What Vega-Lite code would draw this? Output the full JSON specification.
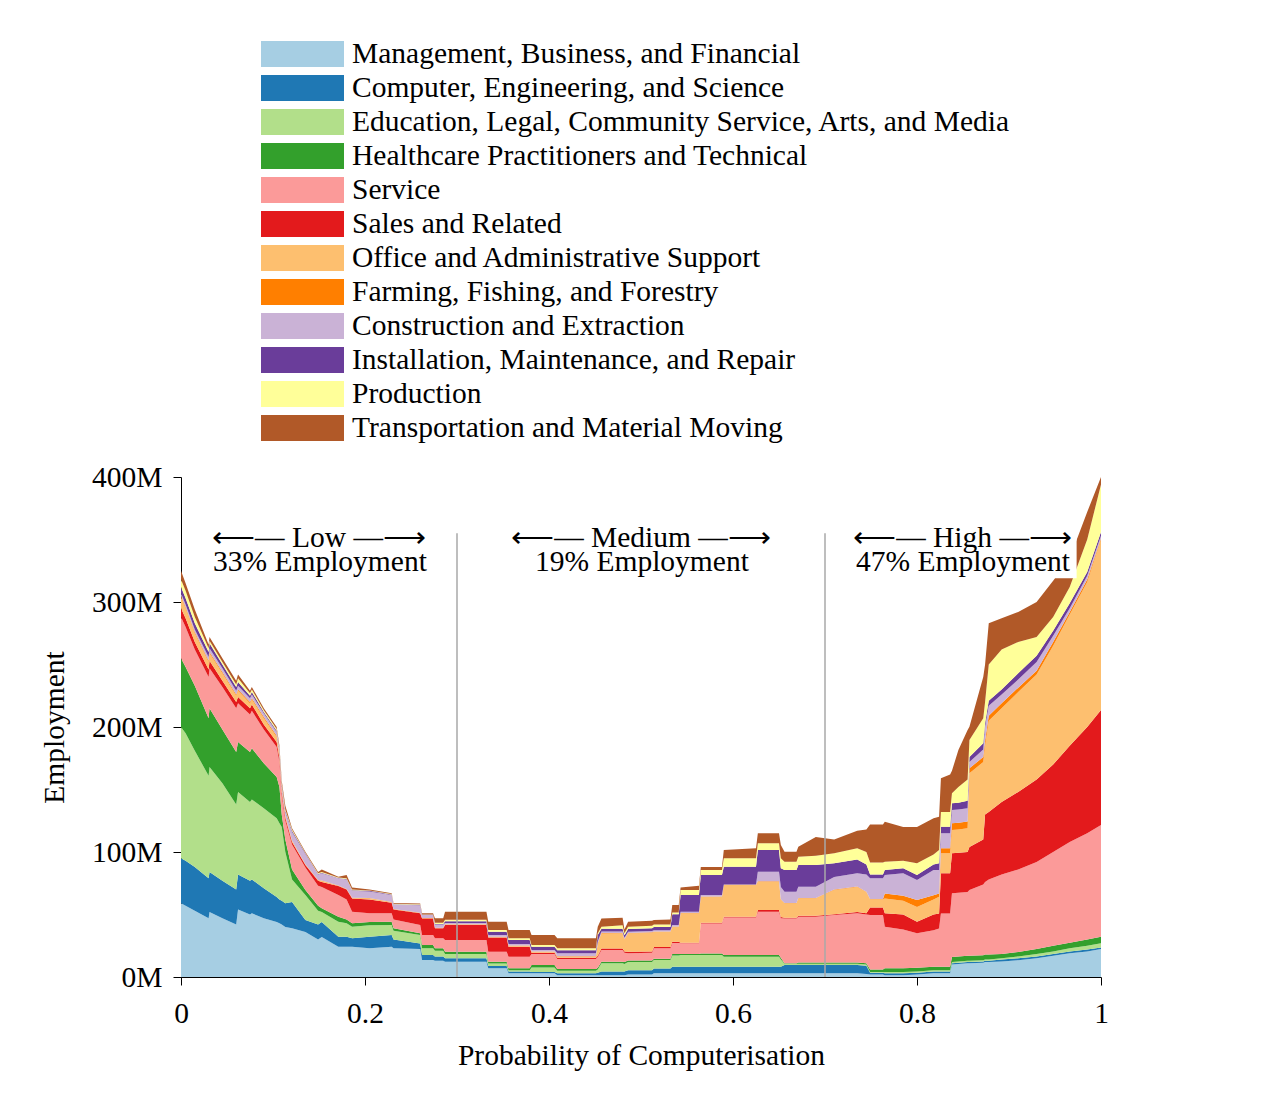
{
  "$schema": "https://vega.github.io/schema/vega-lite/v6.json",
  "width": 920,
  "height": 500,
  "autosize": {"type": "none"},
  "padding": {"left": 181, "top": 477, "right": 169, "bottom": 121},
  "background": "white",
  "config": {"view": {"stroke": null}, "font": "Liberation Serif"},
  "datasets": {
    "cats": [
      {"key": "a", "name": "Management, Business, and Financial"},
      {"key": "b", "name": "Computer, Engineering, and Science"},
      {"key": "c", "name": "Education, Legal, Community Service, Arts, and Media"},
      {"key": "d", "name": "Healthcare Practitioners and Technical"},
      {"key": "e", "name": "Service"},
      {"key": "f", "name": "Sales and Related"},
      {"key": "g", "name": "Office and Administrative Support"},
      {"key": "h", "name": "Farming, Fishing, and Forestry"},
      {"key": "i", "name": "Construction and Extraction"},
      {"key": "j", "name": "Installation, Maintenance, and Repair"},
      {"key": "k", "name": "Production"},
      {"key": "l", "name": "Transportation and Material Moving"}
    ],
    "emp": [
      {"p":0,"a":59,"b":36,"c":105,"d":55,"e":33,"f":7,"g":9,"h":1,"i":2,"j":5,"k":6,"l":7},
      {"p":0.005,"a":57,"b":36,"c":102,"d":53,"e":32,"f":7,"g":8,"h":1,"i":2,"j":5,"k":6,"l":6},
      {"p":0.015,"a":53,"b":35,"c":93,"d":52,"e":29,"f":6,"g":7,"h":1,"i":2,"j":5,"k":5,"l":6},
      {"p":0.03,"a":47,"b":32,"c":82,"d":46,"e":33,"f":6,"g":6,"h":1,"i":3,"j":4,"k":3,"l":3},
      {"p":0.031,"a":52,"b":32,"c":84,"d":47,"e":32,"f":6,"g":6,"h":1,"i":3,"j":4,"k":2,"l":3},
      {"p":0.045,"a":47,"b":30,"c":78,"d":43,"e":34,"f":5,"g":6,"h":1,"i":3,"j":3,"k":2,"l":3},
      {"p":0.06,"a":42,"b":28,"c":68,"d":42,"e":35,"f":5,"g":5,"h":1,"i":3,"j":3,"k":2,"l":3},
      {"p":0.062,"a":54,"b":28,"c":66,"d":40,"e":31,"f":5,"g":5,"h":1,"i":3,"j":3,"k":3,"l":3},
      {"p":0.075,"a":50,"b":27,"c":63,"d":40,"e":30,"f":5,"g":4,"h":1,"i":3,"j":2,"k":2,"l":2},
      {"p":0.077,"a":51,"b":27,"c":64,"d":41,"e":30,"f":5,"g":4,"h":1,"i":3,"j":2,"k":2,"l":2},
      {"p":0.09,"a":47,"b":24,"c":64,"d":36,"e":27,"f":4,"g":5,"h":1,"i":3,"j":1,"k":1.5,"l":1.5},
      {"p":0.104,"a":44,"b":20,"c":63,"d":33,"e":24,"f":4,"g":4,"h":1,"i":3,"j":1,"k":1.5,"l":1.5},
      {"p":0.107,"a":43,"b":19,"c":61,"d":29,"e":20,"f":3,"g":3,"h":0.5,"i":2.5,"j":1,"k":1,"l":2},
      {"p":0.1095,"a":42,"b":19,"c":59,"d":10,"e":15,"f":3,"g":2,"h":0.5,"i":2.5,"j":1,"k":1,"l":2},
      {"p":0.1134,"a":40,"b":19,"c":41,"d":10,"e":15,"f":2.5,"g":1.5,"h":0.3,"i":2.7,"j":1,"k":1,"l":3},
      {"p":0.1207,"a":39,"b":21,"c":18,"d":8,"e":20,"f":2,"g":1,"h":0.2,"i":6.8,"j":1,"k":1,"l":1},
      {"p":0.1352,"a":36,"b":9.6,"c":20,"d":4,"e":18.1,"f":1.9,"g":0.4,"h":0.2,"i":8.2,"j":0.6,"k":0.5,"l":0.8},
      {"p":0.149,"a":30,"b":12,"c":11,"d":4,"e":16,"f":4,"g":0.5,"h":0.2,"i":4.3,"j":0.5,"k":0.5,"l":1},
      {"p":0.153,"a":32,"b":12,"c":8,"d":3,"e":17,"f":4,"g":1,"h":0.2,"i":5.8,"j":0.5,"k":0.5,"l":2},
      {"p":0.171,"a":24.3,"b":8,"c":12,"d":4,"e":17.3,"f":7.2,"g":0.2,"h":0.2,"i":5.8,"j":0.3,"k":0.3,"l":0.7},
      {"p":0.18,"a":24.3,"b":8,"c":10.7,"d":3,"e":16,"f":8,"g":0.3,"h":0.2,"i":7.5,"j":0.5,"k":0.5,"l":2.6},
      {"p":0.186,"a":24.3,"b":6.7,"c":9.3,"d":2.7,"e":9.3,"f":10.6,"g":0.3,"h":0.2,"i":5.6,"j":0.5,"k":0.5,"l":1.7},
      {"p":0.205,"a":23,"b":9.3,"c":9.2,"d":2.5,"e":7,"f":11,"g":1,"h":0.2,"i":5.3,"j":0.5,"k":0.3,"l":0.7},
      {"p":0.229,"a":24.3,"b":9.3,"c":8,"d":2.7,"e":6.7,"f":8.5,"g":0.3,"h":0.2,"i":5.6,"j":0.4,"k":0.4,"l":0.6},
      {"p":0.231,"a":23,"b":7,"c":7,"d":2,"e":7,"f":8,"g":0.3,"h":0.2,"i":3.5,"j":0.3,"k":0.3,"l":0.7},
      {"p":0.26,"a":22.4,"b":4.5,"c":6.7,"d":1.4,"e":6.6,"f":9.4,"g":0.3,"h":0.2,"i":6,"j":0.3,"k":0.4,"l":0.7},
      {"p":0.262,"a":13.6,"b":4,"c":5.4,"d":2.6,"e":8,"f":13.3,"g":0.2,"h":0.1,"i":2.4,"j":0.2,"k":0.2,"l":1},
      {"p":0.274,"a":13.6,"b":4,"c":5.4,"d":2.6,"e":8,"f":13.3,"g":0.2,"h":0.1,"i":2.4,"j":0.2,"k":0.2,"l":1},
      {"p":0.276,"a":13,"b":3.5,"c":4.5,"d":2,"e":8,"f":8,"g":0.3,"h":0.2,"i":2.5,"j":0.5,"k":1,"l":3.5},
      {"p":0.285,"a":13,"b":3.5,"c":4.5,"d":2,"e":8,"f":8,"g":0.3,"h":0.2,"i":2.5,"j":0.5,"k":1,"l":3.5},
      {"p":0.287,"a":12.3,"b":2.7,"c":3.4,"d":1.9,"e":9.3,"f":12,"g":0.4,"h":0.2,"i":1.1,"j":1.3,"k":1.2,"l":6.5},
      {"p":0.332,"a":12.3,"b":2.7,"c":3.4,"d":1.9,"e":9.3,"f":12,"g":0.4,"h":0.2,"i":1.1,"j":1.3,"k":1.2,"l":6.5},
      {"p":0.334,"a":7,"b":1.8,"c":2.1,"d":1.4,"e":8,"f":11.4,"g":0.3,"h":0.2,"i":1.4,"j":2.7,"k":1.3,"l":6.7},
      {"p":0.354,"a":7,"b":1.8,"c":2.1,"d":1.4,"e":8,"f":11.4,"g":0.3,"h":0.2,"i":1.4,"j":2.7,"k":1.3,"l":6.7},
      {"p":0.356,"a":3,"b":1.5,"c":1,"d":1.5,"e":9.3,"f":8,"g":0.7,"h":0.2,"i":1.3,"j":3.1,"k":1.4,"l":6.6},
      {"p":0.379,"a":3,"b":1.5,"c":1,"d":1.5,"e":9.3,"f":8,"g":0.7,"h":0.2,"i":1.3,"j":3.1,"k":1.4,"l":6.6},
      {"p":0.381,"a":3,"b":1,"c":3.7,"d":1.9,"e":8.8,"f":1.1,"g":0.8,"h":0.2,"i":1.1,"j":2.7,"k":1.3,"l":8},
      {"p":0.406,"a":3,"b":1,"c":3.7,"d":1.9,"e":8.8,"f":1.1,"g":0.8,"h":0.2,"i":1.1,"j":2.7,"k":1.3,"l":8},
      {"p":0.409,"a":1.5,"b":1.5,"c":2,"d":1.5,"e":8,"f":1,"g":0.8,"h":0.3,"i":2.4,"j":2.5,"k":1.5,"l":8},
      {"p":0.451,"a":1.5,"b":1.5,"c":2,"d":1.5,"e":8,"f":1,"g":0.8,"h":0.3,"i":2.4,"j":2.5,"k":1.5,"l":8},
      {"p":0.453,"a":1.5,"b":2,"c":2.5,"d":1.5,"e":8.5,"f":1,"g":10,"h":0.3,"i":1.2,"j":5.1,"k":1.4,"l":5.3},
      {"p":0.457,"a":1.5,"b":3,"c":6.5,"d":1.3,"e":9.3,"f":1.3,"g":12,"h":0.4,"i":1.2,"j":2.1,"k":1.7,"l":6.6},
      {"p":0.48,"a":1.5,"b":3,"c":6.5,"d":1.3,"e":9.3,"f":1.3,"g":12.1,"h":0.3,"i":1.2,"j":2.1,"k":2.9,"l":6},
      {"p":0.482,"a":1.5,"b":3,"c":6,"d":1.5,"e":7.5,"f":1,"g":9.5,"h":0.3,"i":1.2,"j":2,"k":1.5,"l":3},
      {"p":0.486,"a":2,"b":3.5,"c":6.5,"d":1.3,"e":5.7,"f":1.3,"g":14.7,"h":0.3,"i":1,"j":2.2,"k":1.8,"l":4},
      {"p":0.512,"a":2,"b":3.5,"c":6.5,"d":1.3,"e":6.2,"f":1,"g":15,"h":0.3,"i":1,"j":2.2,"k":2,"l":4},
      {"p":0.514,"a":3,"b":3.9,"c":6.7,"d":1.1,"e":8.3,"f":1,"g":12.3,"h":0.2,"i":1,"j":2.5,"k":2,"l":3.6},
      {"p":0.532,"a":3,"b":3.9,"c":6.7,"d":1.1,"e":8.3,"f":1,"g":12.3,"h":0.2,"i":1,"j":2.5,"k":2,"l":4},
      {"p":0.534,"a":3,"b":5.3,"c":9,"d":1.1,"e":8.9,"f":1,"g":12,"h":0.2,"i":1.1,"j":8.7,"k":1.3,"l":6},
      {"p":0.541,"a":3,"b":5.3,"c":9,"d":1.1,"e":8.9,"f":1,"g":12,"h":0.2,"i":1.1,"j":8.7,"k":1.3,"l":6},
      {"p":0.543,"a":3,"b":5.3,"c":9.3,"d":0.8,"e":8.6,"f":0.5,"g":23.5,"h":0.2,"i":1.1,"j":13.3,"k":4,"l":2.1},
      {"p":0.563,"a":3,"b":5.3,"c":9.3,"d":0.8,"e":8.6,"f":0.5,"g":23.5,"h":0.2,"i":1.1,"j":13.3,"k":4,"l":3.4},
      {"p":0.565,"a":3,"b":5.3,"c":9.3,"d":1.3,"e":24,"f":0.6,"g":20.8,"h":0.2,"i":1.1,"j":16,"k":4,"l":2.4},
      {"p":0.588,"a":3,"b":5.3,"c":9.3,"d":1.3,"e":24,"f":0.6,"g":20.8,"h":0.2,"i":1.1,"j":16,"k":4,"l":2.4},
      {"p":0.59,"a":3,"b":5.3,"c":8,"d":1.3,"e":30.1,"f":0.6,"g":25.3,"h":0.2,"i":0.2,"j":14.3,"k":6.7,"l":6.6},
      {"p":0.625,"a":3,"b":5.3,"c":8,"d":1.3,"e":30.1,"f":0.6,"g":25.3,"h":0.2,"i":0.2,"j":14.3,"k":6.7,"l":8},
      {"p":0.627,"a":3,"b":5.3,"c":8,"d":1.3,"e":34.7,"f":1.3,"g":22.7,"h":0.4,"i":7.6,"j":17.3,"k":5.4,"l":8},
      {"p":0.65,"a":3,"b":5.3,"c":8,"d":1.3,"e":34.7,"f":1.3,"g":22.7,"h":0.4,"i":7.6,"j":17.3,"k":5.4,"l":8},
      {"p":0.652,"a":3,"b":5.3,"c":5.7,"d":1.5,"e":31.5,"f":1,"g":14,"h":0.3,"i":9.7,"j":15,"k":8,"l":10.6},
      {"p":0.656,"a":3,"b":6.6,"c":1,"d":0.4,"e":35.9,"f":0.6,"g":11.5,"h":0.3,"i":9,"j":17.3,"k":6.7,"l":8},
      {"p":0.669,"a":3,"b":6.6,"c":1,"d":0.4,"e":35.9,"f":0.6,"g":11.5,"h":0.3,"i":9,"j":17.3,"k":6.7,"l":8},
      {"p":0.671,"a":3,"b":6.6,"c":1,"d":1,"e":36.7,"f":0.7,"g":14,"h":0.3,"i":9,"j":17.3,"k":6.7,"l":8},
      {"p":0.69,"a":3,"b":6.6,"c":1,"d":1,"e":36.7,"f":0.7,"g":14,"h":0.3,"i":9,"j":17.3,"k":7.4,"l":15},
      {"p":0.71,"a":3,"b":6.6,"c":1,"d":1,"e":38,"f":0.7,"g":19.3,"h":0.4,"i":10,"j":11,"k":8,"l":11},
      {"p":0.735,"a":3,"b":6.6,"c":1,"d":1,"e":39.4,"f":1,"g":20,"h":0.5,"i":10.5,"j":11,"k":9,"l":14},
      {"p":0.745,"a":2.5,"b":6.5,"c":1,"d":1,"e":39,"f":1,"g":17,"h":0.3,"i":13.7,"j":8,"k":10,"l":18},
      {"p":0.749,"a":2,"b":1.5,"c":0.5,"d":2,"e":43.6,"f":6,"g":6.7,"h":0.2,"i":16.5,"j":3,"k":9.6,"l":30.4},
      {"p":0.763,"a":2,"b":1.5,"c":0.5,"d":2,"e":43.6,"f":6,"g":6.7,"h":0.2,"i":16.5,"j":3,"k":9.6,"l":30.4},
      {"p":0.765,"a":1.5,"b":1.5,"c":1,"d":3,"e":33.3,"f":10.7,"g":11.9,"h":4,"i":14.7,"j":4,"k":6.7,"l":32},
      {"p":0.785,"a":1.5,"b":1.5,"c":1,"d":3,"e":31,"f":12,"g":11,"h":4,"i":18,"j":4,"k":6,"l":27},
      {"p":0.8,"a":2,"b":1.5,"c":1,"d":3,"e":27.5,"f":9.3,"g":11.7,"h":5.6,"i":16,"j":4,"k":9.4,"l":29},
      {"p":0.818,"a":3,"b":1.5,"c":1,"d":2.8,"e":29.2,"f":12.5,"g":12,"h":3.5,"i":20.1,"j":4.4,"k":8,"l":29},
      {"p":0.824,"a":3,"b":1.5,"c":1,"d":2.8,"e":30.6,"f":12,"g":13.4,"h":2.6,"i":18.7,"j":5.4,"k":10.6,"l":26.7},
      {"p":0.826,"a":3,"b":1.5,"c":1,"d":2.8,"e":42.6,"f":32.1,"g":16,"h":4,"i":12,"j":5.3,"k":11.7,"l":27},
      {"p":0.836,"a":3,"b":1.5,"c":1,"d":2.8,"e":42.6,"f":32.1,"g":16,"h":4,"i":12,"j":5.3,"k":11.7,"l":30},
      {"p":0.838,"a":10,"b":1,"c":1,"d":4,"e":51,"f":32,"g":18.6,"h":5.4,"i":10.6,"j":5.4,"k":8,"l":18},
      {"p":0.845,"a":10.5,"b":1,"c":1,"d":4,"e":51,"f":32,"g":18.5,"h":5.5,"i":10.5,"j":5.5,"k":12.5,"l":29.6},
      {"p":0.855,"a":11,"b":1,"c":1,"d":4,"e":51,"f":32,"g":19,"h":5.5,"i":10.5,"j":6,"k":17,"l":39.6},
      {"p":0.857,"a":11,"b":1,"c":1,"d":4,"e":52.6,"f":34.4,"g":59,"h":4,"i":5,"j":4,"k":13.6,"l":10.7},
      {"p":0.872,"a":11.5,"b":1,"c":1,"d":4,"e":56.5,"f":36,"g":62,"h":4,"i":6,"j":5,"k":20,"l":33},
      {"p":0.874,"a":12,"b":1,"c":1,"d":4,"e":58,"f":54,"g":55,"h":4,"i":11,"j":3,"k":17,"l":30},
      {"p":0.878,"a":12,"b":1,"c":1,"d":4,"e":60,"f":54,"g":73,"h":4,"i":8,"j":4,"k":29,"l":33},
      {"p":0.892,"a":12.5,"b":1.5,"c":1,"d":3.5,"e":63.5,"f":58,"g":75,"h":4,"i":7,"j":4,"k":32,"l":25},
      {"p":0.91,"a":13.5,"b":1.5,"c":1.5,"d":3.5,"e":66,"f":62,"g":80,"h":3.5,"i":6.5,"j":5,"k":25,"l":24},
      {"p":0.93,"a":15,"b":1.5,"c":2,"d":4,"e":69.5,"f":66,"g":84,"h":3,"i":7,"j":5,"k":15,"l":28},
      {"p":0.948,"a":17,"b":1.5,"c":2,"d":4.5,"e":75,"f":70,"g":95,"h":3,"i":5,"j":4,"k":11,"l":29},
      {"p":0.966,"a":19,"b":1.5,"c":2.5,"d":4.5,"e":80.5,"f":77,"g":105,"h":2,"i":3,"j":4,"k":13,"l":23},
      {"p":0.985,"a":20.5,"b":1.5,"c":3,"d":5,"e":85,"f":85,"g":116,"h":2,"i":3,"j":3,"k":26,"l":22},
      {"p":1,"a":22.4,"b":1.3,"c":3.3,"d":5.3,"e":89.3,"f":92,"g":136.4,"h":1,"i":2,"j":3,"k":38,"l":6}
    ]
  },
  "layer": [
    {
      "data": {"name": "emp"},
      "transform": [
        {"fold": ["a","b","c","d","e","f","g","h","i","j","k","l"], "as": ["key", "val"]},
        {"lookup": "key", "from": {"data": {"name": "cats"}, "key": "key", "fields": ["name"]}}
      ],
      "mark": {"type": "area", "interpolate": "linear"},
      "encoding": {
        "x": {
          "field": "p", "type": "quantitative",
          "scale": {"domain": [0, 1], "nice": false},
          "title": "Probability of Computerisation",
          "axis": {
            "values": [0, 0.2, 0.4, 0.6, 0.8, 1], "format": "~g", "grid": false,
            "domainColor": "black", "tickColor": "black", "tickSize": 8,
            "labelFont": "Liberation Serif", "labelFontSize": 29.5, "labelColor": "black",
            "labelPadding": 14, "labelFlush": false,
            "titleFont": "Liberation Serif", "titleFontSize": 29.5, "titleFontWeight": "normal",
            "titleColor": "black", "titlePadding": 14
          }
        },
        "y": {
          "field": "val", "type": "quantitative", "stack": "zero",
          "scale": {"domain": [0, 400], "nice": false},
          "title": "Employment",
          "axis": {
            "values": [0, 100, 200, 300, 400], "labelExpr": "datum.value + 'M'", "grid": false,
            "domainColor": "black", "tickColor": "black", "tickSize": 8,
            "labelFont": "Liberation Serif", "labelFontSize": 29.5, "labelColor": "black",
            "labelPadding": 11,
            "titleFont": "Liberation Serif", "titleFontSize": 29.5, "titleFontWeight": "normal",
            "titleColor": "black", "titlePadding": 22
          }
        },
        "color": {
          "field": "name", "type": "nominal",
          "scale": {
            "domain": [
              "Management, Business, and Financial",
              "Computer, Engineering, and Science",
              "Education, Legal, Community Service, Arts, and Media",
              "Healthcare Practitioners and Technical",
              "Service",
              "Sales and Related",
              "Office and Administrative Support",
              "Farming, Fishing, and Forestry",
              "Construction and Extraction",
              "Installation, Maintenance, and Repair",
              "Production",
              "Transportation and Material Moving"
            ],
            "range": ["#a6cee3","#1f78b4","#b2df8a","#33a02c","#fb9a99","#e31a1c","#fdbf6f","#ff7f00","#cab2d6","#6a3d9a","#ffff99","#b15928"]
          },
          "legend": {
            "title": null, "orient": "none", "legendX": 80, "legendY": -440,
            "direction": "vertical",
            "symbolType": "M-1,-0.3133H1V0.3133H-1Z", "symbolSize": 6889,
            "symbolStrokeWidth": 0, "symbolOpacity": 1,
            "clipHeight": 34, "rowPadding": 0, "padding": 0, "offset": 0,
            "labelFont": "Liberation Serif", "labelFontSize": 29.5, "labelColor": "black",
            "labelOffset": 8, "labelLimit": 1000
          }
        },
        "order": {"field": "key", "sort": "ascending"}
      }
    },
    {
      "data": {"values": [{"p": 0.3}, {"p": 0.7}]},
      "mark": {"type": "rule", "color": "#a8a8a8", "strokeWidth": 1.5},
      "encoding": {
        "x": {"field": "p", "type": "quantitative"},
        "y": {"datum": 0},
        "y2": {"datum": 355}
      }
    },
    {
      "data": {"values": [{"box": "High"}]},
      "mark": {"type": "rect", "fill": "white"},
      "encoding": {
        "x": {"datum": 0.75},
        "x2": {"datum": 0.9735},
        "y": {"datum": 319},
        "y2": {"datum": 362}
      }
    },
    {
      "data": {"values": [
        {"p": 0.15, "q": 0.151, "t1": "⟵— Low —⟶", "t2": "33% Employment"},
        {"p": 0.5, "q": 0.501, "t1": "⟵— Medium —⟶", "t2": "19% Employment"},
        {"p": 0.8495, "q": 0.85, "t1": "⟵— High —⟶", "t2": "47% Employment"}
      ]},
      "layer": [
        {
          "mark": {"type": "text", "font": "Liberation Serif", "fontSize": 29.5, "baseline": "alphabetic", "align": "center", "color": "black"},
          "encoding": {
            "x": {"field": "p", "type": "quantitative"},
            "y": {"datum": 344.2},
            "text": {"field": "t1"}
          }
        },
        {
          "mark": {"type": "text", "font": "Liberation Serif", "fontSize": 29.5, "baseline": "alphabetic", "align": "center", "color": "black"},
          "encoding": {
            "x": {"field": "q", "type": "quantitative"},
            "y": {"datum": 324.8},
            "text": {"field": "t2"}
          }
        }
      ]
    }
  ]
}
